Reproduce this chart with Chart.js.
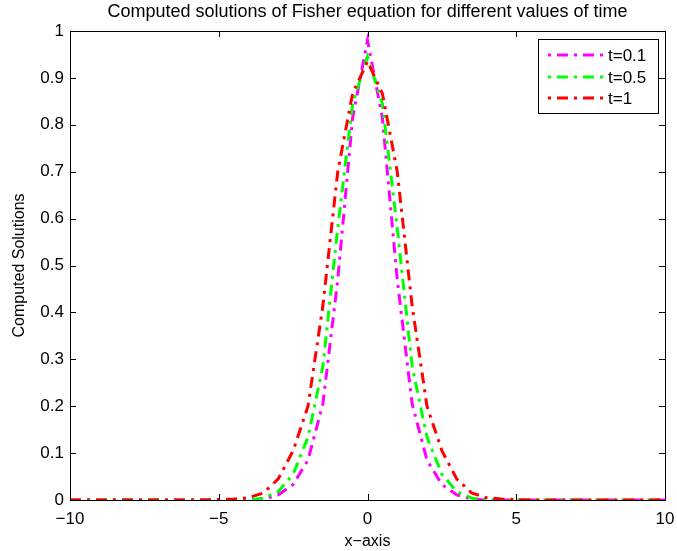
<!DOCTYPE html>
<html>
<head>
<meta charset="utf-8">
<script src="https://cdn.jsdelivr.net/npm/chart.js@4"></script>
<style>
html,body{margin:0;padding:0;background:#fff;}
#wrap{width:677px;height:551px;}
</style>
</head>
<body>
<div id="wrap"><canvas id="c" width="677" height="551"></canvas></div>
<script>
// ---- data ----
const xValues = [-10,-9.5,-9,-8.5,-8,-7.5,-7,-6.5,-6,-5.5,-5,-4.5,-4,-3.5,-3,-2.5,-2,-1.5,-1,-0.5,0,
                 0.5,1,1.5,2,2.5,3,3.5,4,4.5,5,5.5,6,6.5,7,7.5,8,8.5,9,9.5,10];
const seriesT01 = [0,0,0,0,0,0,0,0,0,0,0,0,0,
                   0.002,0.011,0.033,0.085,0.205,0.47,0.815,
                   0.98,
                   0.815,0.47,0.205,0.085,0.033,0.011,0.002,
                   0,0,0,0,0,0,0,0,0,0,0,0,0];
const seriesT05 = [0,0,0,0,0,0,0,0,0,0,0,0,0,
                   0.004,0.018,0.055,0.134,0.285,0.58,0.845,
                   0.945,
                   0.845,0.58,0.285,0.134,0.055,0.018,0.004,
                   0,0,0,0,0,0,0,0,0,0,0,0,0];
const seriesT1  = [0,0,0,0,0,0,0,0,0,0,
                   0.001,0.002,0.005,0.015,0.045,0.105,0.20,0.414,0.70,0.867,
                   0.935,
                   0.867,0.70,0.414,0.20,0.105,0.045,0.015,0.005,0.002,0.001,
                   0,0,0,0,0,0,0,0,0,0];
const seriesLabels = ['t=0.1','t=0.5','t=1'];
const seriesColors = ['#ff00ff','#00ff00','#ff0000'];
const xTicks = [-10,-5,0,5,10];
const yTicks = [0,0.1,0.2,0.3,0.4,0.5,0.6,0.7,0.8,0.9,1];
const titleText = 'Computed solutions of Fisher equation for different values of time';
const xLabel = 'x\u2212axis';
const yLabel = 'Computed Solutions';

const FONT = '"Liberation Sans", Arial, Helvetica, sans-serif';
const DASH = [11,6,3,6];

function pts(arr){ return xValues.map((x,i)=>({x:x,y:arr[i]})); }
const allSeries = [seriesT01, seriesT05, seriesT1];
const datasets = allSeries.map((s,i)=>({
  label: seriesLabels[i],
  data: pts(s),
  borderColor: seriesColors[i],
  backgroundColor: seriesColors[i],
  borderWidth: 3,
  borderDash: DASH,
  borderCapStyle: 'butt',
  pointRadius: 0,
  tension: 0,
  fill: false,
  order: 2 - i
}));

const boxPlugin = {
  id: 'matlabBox',
  afterDatasetsDraw(chart){
    const ctx = chart.ctx, a = chart.chartArea;
    const xs = chart.scales.x, ys = chart.scales.y;
    ctx.save();
    ctx.strokeStyle = '#000';
    ctx.lineWidth = 1;
    ctx.setLineDash([]);
    ctx.beginPath();
    ctx.rect(Math.round(a.left)+0.5, Math.round(a.top)+0.5, Math.round(a.right-a.left), Math.round(a.bottom-a.top));
    ctx.stroke();
    const tl = 6;
    ctx.beginPath();
    xTicks.forEach(v=>{
      const px = Math.round(xs.getPixelForValue(v))+0.5;
      ctx.moveTo(px, a.bottom); ctx.lineTo(px, a.bottom - tl);
      ctx.moveTo(px, a.top); ctx.lineTo(px, a.top + tl);
    });
    yTicks.forEach(v=>{
      const py = Math.round(ys.getPixelForValue(v))+0.5;
      ctx.moveTo(a.left, py); ctx.lineTo(a.left + tl, py);
      ctx.moveTo(a.right, py); ctx.lineTo(a.right - tl, py);
    });
    ctx.stroke();

    // legend
    const lx = 538.5, ly = 39.5, lw = 120, lh = 74;
    ctx.fillStyle = '#fff';
    ctx.fillRect(lx, ly, lw, lh);
    ctx.strokeStyle = '#000';
    ctx.strokeRect(lx, ly, lw, lh);
    const rows = [55, 77, 98];
    chart.data.datasets.forEach((d,i)=>{
      ctx.save();
      ctx.strokeStyle = d.borderColor;
      ctx.lineWidth = 3;
      ctx.lineCap = 'butt';
      ctx.setLineDash(DASH);
      ctx.lineDashOffset = 17;
      ctx.beginPath();
      ctx.moveTo(548, rows[i]); ctx.lineTo(603, rows[i]);
      ctx.stroke();
      ctx.restore();
      ctx.fillStyle = '#000';
      ctx.font = '17px ' + FONT;
      ctx.textAlign = 'left';
      ctx.textBaseline = 'middle';
      ctx.fillText(d.label, 608, rows[i]+1);
    });
    ctx.restore();
  }
};

new Chart(document.getElementById('c'), {
  type: 'line',
  data: { datasets: datasets },
  options: {
    responsive: false,
    animation: false,
    devicePixelRatio: 1,
    layout: { padding: { left: 0, right: 12, top: 0, bottom: 0 } },
    plugins: {
      legend: { display: false },
      tooltip: { enabled: false },
      title: {
        display: true,
        text: titleText,
        fullSize: false,
        color: '#000',
        font: { family: FONT, size: 18, weight: 'normal', lineHeight: 1.2 },
        padding: { top: 1, bottom: 8.4 }
      }
    },
    scales: {
      x: {
        type: 'linear',
        min: -10, max: 10,
        afterFit(s){ s.height = 51; s.paddingLeft = 0; s.paddingRight = 0; },
        afterBuildTicks(s){ s.ticks = xTicks.map(v=>({value:v})); },
        grid: { display: false, drawTicks: false },
        border: { display: false },
        ticks: {
          color: '#000',
          padding: 9,
          maxRotation: 0,
          font: { family: FONT, size: 17 },
          callback: v => String(v).replace('-', '\u2212')
        },
        title: {
          display: true, text: xLabel, color: '#000',
          font: { family: FONT, size: 16 },
          padding: { top: 0, bottom: 0 }
        }
      },
      y: {
        type: 'linear',
        min: 0, max: 1,
        afterFit(s){ s.width = 70; s.paddingTop = 0; s.paddingBottom = 0; },
        afterBuildTicks(s){ s.ticks = yTicks.map(v=>({value:v})); },
        grid: { display: false, drawTicks: false },
        border: { display: false },
        ticks: {
          color: '#000',
          padding: 6,
          font: { family: FONT, size: 17 },
          callback: v => (v === 0 || v === 1) ? String(v) : v.toFixed(1)
        },
        title: {
          display: true, text: yLabel, color: '#000',
          font: { family: FONT, size: 16 },
          padding: { top: 10, bottom: 0 }
        }
      }
    }
  },
  plugins: [boxPlugin]
});
</script>
</body>
</html>
